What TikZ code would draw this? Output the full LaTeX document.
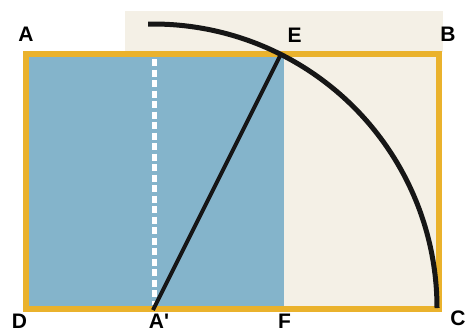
\documentclass[tikz,border=0pt]{standalone}
\usepackage{fontspec}
\setmainfont{Liberation Sans}
\begin{document}
\begin{tikzpicture}[x=1pt,y=-1pt,
  lbl/.style={font=\fontsize{21}{23}\selectfont\bfseries, text=black, inner sep=0pt, anchor=center},
  frame/.style={draw=goldY, line width=6.5pt},
  arcline/.style={draw=inkB, line width=5pt},
  radline/.style={draw=inkB, line width=4pt},
  fold/.style={draw=white, line width=5pt, dash pattern=on 7pt off 3.5pt}]
\definecolor{goldY}{RGB}{234,178,44}
\definecolor{paleB}{RGB}{132,180,203}
\definecolor{creamC}{RGB}{244,240,230}
\definecolor{inkB}{RGB}{22,22,22}
\useasboundingbox (0,0) rectangle (465,333);
\fill[white] (0,0) rectangle (465,333);
% cream band above
\fill[creamC] (125,11) rectangle (443,52);
% fills
\fill[paleB] (23,51) rectangle (284,312);
\fill[creamC] (284,51) rectangle (442,312);
% frame
\draw[frame] (26,54) rectangle (439,309);
% coordinates
\coordinate (Ap) at (153,310);
\coordinate (Ctr) at (153,308);
\coordinate (E) at (280,56);
\coordinate (foldtop) at (154,59);
\coordinate (foldbot) at (154,305);
% fold line
\draw[fold] (foldtop) -- (foldbot);
% radius line
\draw[radline] (Ap) -- (E);
% arc
\draw[arcline] (Ctr) ++(91:284 and -284) arc[start angle=91, end angle=0, x radius=284, y radius=-284];
% labels
\node[lbl] (lA) at (26,34) {A};
\node[lbl] (lE) at (294.5,35) {E};
\node[lbl] (lB) at (448,34.5) {B};
\node[lbl] (lD) at (19.5,321) {D};
\node[lbl] (lAp) at (159,321) {A\textquotesingle};
\node[lbl] (lF) at (284.5,321) {F};
\node[lbl] (lC) at (458,318) {C};
\end{tikzpicture}
\end{document}
